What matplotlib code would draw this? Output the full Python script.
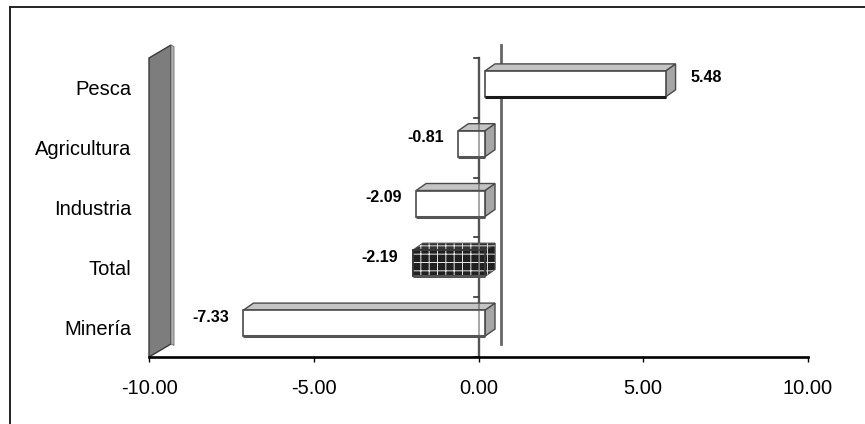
import matplotlib
matplotlib.use("Agg")
import matplotlib.pyplot as plt
from matplotlib.patches import Polygon, Rectangle
from matplotlib.lines import Line2D

plt.rcParams['font.family'] = ['Liberation Sans', 'DejaVu Sans']
plt.rcParams['hatch.linewidth'] = 0.7

categories = ["Pesca", "Agricultura", "Industria", "Total", "Minería"]
values = [5.48, -0.81, -2.09, -2.19, -7.33]
patterned = [False, False, False, True, False]
xticks = [-10, -5, 0, 5, 10]
xticklabels = ["-10.00", "-5.00", "0.00", "5.00", "10.00"]

W, H = 865, 424
fig = plt.figure(figsize=(W / 100, H / 100), dpi=100)
L, R, T, B = 149, 808, 58, 357
ax = fig.add_axes([L / W, (H - B) / H, (R - L) / W, (B - T) / H])
xmin, xmax = -10, 10
n = len(categories)
ymin, ymax = -0.5, n - 0.5
ax.set_xlim(xmin, xmax)
ax.set_ylim(ymin, ymax)

px_x = (xmax - xmin) / (R - L)      # data units per pixel (x)
px_y = (ymax - ymin) / (B - T)      # data units per pixel (y)

# depth vectors (pixels -> data)
wall_dx, wall_dy = 22 * px_x, 13 * px_y
f_dx, f_dy = 6.5 * px_x, 4 * px_y
b_dx, b_dy = 16.5 * px_x, 11 * px_y
bar_h = 26 * px_y

for s in ax.spines.values():
    s.set_visible(False)
ax.patch.set_alpha(0)

# back wall at x = xmin
wall = Polygon([(xmin, ymin), (xmin, ymax), (xmin + wall_dx, ymax + wall_dy),
                (xmin + wall_dx, ymin + wall_dy)], closed=True,
               facecolor="#7d7d7d", edgecolor="#3a3a3a", lw=1.0, clip_on=False, zorder=1)
ax.add_patch(wall)
strip = Polygon([(xmin + wall_dx, ymin + wall_dy), (xmin + wall_dx, ymax + wall_dy),
                 (xmin + wall_dx + 3 * px_x, ymax + wall_dy - 1.5 * px_y),
                 (xmin + wall_dx + 3 * px_x, ymin + wall_dy - 1.5 * px_y)], closed=True,
                facecolor="#b5b5b5", edgecolor="#6a6a6a", lw=0.6, clip_on=False, zorder=1)
ax.add_patch(strip)

# back zero line
ax.add_line(Line2D([wall_dx, wall_dx], [ymin + wall_dy, ymax + wall_dy],
                   color="#666666", lw=2.0, clip_on=False, zorder=2))
# front zero line with category boundary ticks
ax.add_line(Line2D([0, 0], [ymin, ymax], color="#555555", lw=1.7, clip_on=False, zorder=2))
for k in range(n + 1):
    yb = ymin + k
    ax.add_line(Line2D([-5 * px_x, 0], [yb, yb], color="#333333", lw=1.2,
                       clip_on=False, zorder=2))

# bars
for i, (cat, v, pat) in enumerate(zip(categories, values, patterned)):
    yc = n - 1 - i
    x0, x1 = min(0, v), max(0, v)
    bot = yc + f_dy - bar_h / 2
    top = yc + f_dy + bar_h / 2
    ddx, ddy = b_dx - f_dx, b_dy - f_dy
    if pat:
        fc_front, fc_top, fc_side = "#202020", "#333333", "#202020"
    else:
        fc_front, fc_top, fc_side = "white", "#c4c4c4", "#a6a6a6"
    side = Polygon([(x1 + f_dx, bot), (x1 + f_dx, top), (x1 + b_dx, top + ddy),
                    (x1 + b_dx, bot + ddy)], closed=True, facecolor=fc_side,
                   edgecolor="#4a4a4a", lw=1.0, zorder=3)
    topf = Polygon([(x0 + f_dx, top), (x1 + f_dx, top), (x1 + b_dx, top + ddy),
                    (x0 + b_dx, top + ddy)], closed=True, facecolor=fc_top,
                   edgecolor="#4a4a4a", lw=1.0, zorder=3)
    ax.add_patch(side)
    ax.add_patch(topf)
    if pat:
        for poly in (side, topf):
            ax.add_patch(Polygon(poly.get_xy(), closed=True, facecolor="none",
                                 edgecolor="#dddddd", hatch="++", lw=0, zorder=3.1))
    front = Rectangle((x0 + f_dx, bot), x1 - x0, bar_h, facecolor=fc_front,
                      edgecolor="#4a4a4a", lw=1.2, zorder=4)
    ax.add_patch(front)
    if pat:
        ax.add_patch(Rectangle((x0 + f_dx, bot), x1 - x0, bar_h, facecolor="none",
                               edgecolor="#e8e8e8", hatch="++", lw=0, zorder=4.1))
        ax.add_patch(Rectangle((x0 + f_dx, bot), x1 - x0, bar_h, facecolor="none",
                               edgecolor="#333333", lw=1.2, zorder=4.2))
    ax.add_line(Line2D([x0 + f_dx, x1 + f_dx], [bot, bot],
                       color="#1a1a1a" if i == 0 else "#555555",
                       lw=2.2, zorder=4.3, solid_capstyle="butt"))
    # value labels
    if v >= 0:
        ax.annotate(f"{v:.2f}", (v, yc), xytext=(31, 10), textcoords="offset pixels",
                    ha="left", va="center", fontsize=11.5, fontweight="bold", zorder=6)
    else:
        ax.annotate(f"{v:.2f}", (v, yc), xytext=(-8, 10), textcoords="offset pixels",
                    ha="right", va="center", fontsize=11.5, fontweight="bold", zorder=6)

# front zero line segment drawn over bar fronts
ax.add_line(Line2D([0, 0], [ymin, ymax], color="#555555", lw=1.2, alpha=0.6,
                   clip_on=False, zorder=4.5))

# x axis line
ax.add_line(Line2D([xmin, xmax], [ymin, ymin], color="black", lw=1.9, clip_on=False, zorder=5))

ax.set_xticks(xticks)
ax.set_xticklabels(xticklabels, fontsize=14.5)
ax.set_yticks([n - 1 - i for i in range(n)])
ax.set_yticklabels(categories, fontsize=14.5)
ax.tick_params(axis="x", length=3.5, width=1.0, direction="out", pad=12, color="black")
ax.tick_params(axis="y", length=0, pad=12.5)

# outer frame (top and left)
fig.add_artist(Line2D([10 / W, 1], [(H - 6.5) / H, (H - 6.5) / H], color="#222222", lw=1.4))
fig.add_artist(Line2D([10 / W, 10 / W], [0, (H - 6.5) / H], color="#222222", lw=1.4))

fig.savefig("out.png", dpi=100)
